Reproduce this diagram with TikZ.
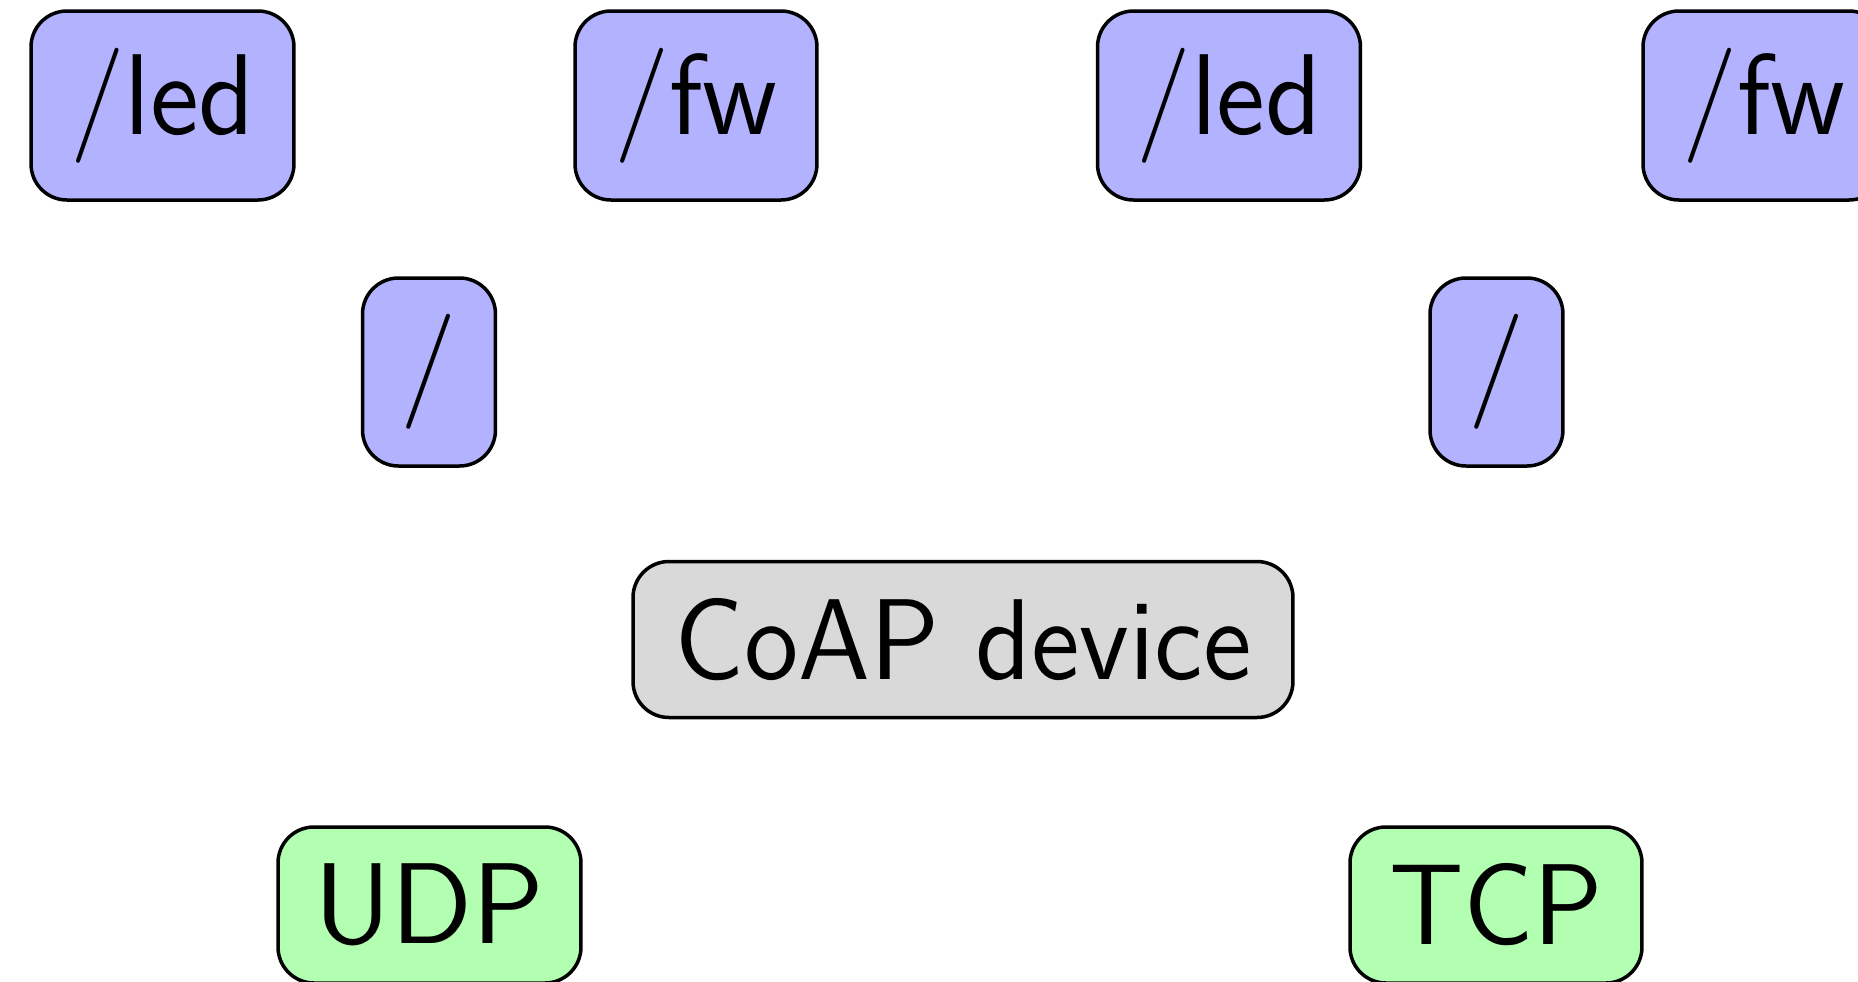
\documentclass[tikz,border=0pt]{standalone}
\usepackage{graphicx}
\newcommand{\xsq}[2]{\scalebox{#1}[1]{#2}}
\begin{document}
\begin{tikzpicture}[x=0.1pt,y=-0.1pt,
  box/.style={draw, rounded corners=3.6pt, line width=0.35pt, inner sep=0pt,
    font=\fontsize{11.5pt}{13pt}\selectfont\sffamily},
  res/.style={box, fill=blue!30, minimum height=18.9pt},
  proto/.style={box, fill=green!30, minimum height=15.6pt},
  dev/.style={box, fill=gray!30, minimum height=15.6pt}]
\useasboundingbox (0,0) rectangle (1858,982);
\node[res, minimum width=26.3pt] (led1) at (162.5,105.5) {\xsq{0.97}{/led}};
\node[res, minimum width=24.2pt] (fw1) at (696,105.5) {\xsq{0.98}{/fw}};
\node[res, minimum width=26.3pt] (led2) at (1229,105.5) {\xsq{0.97}{/led}};
\node[res, minimum width=24.2pt] (fw2) at (1764,105.5) {\xsq{0.98}{/fw}};
\node[res, minimum width=13.3pt, minimum height=18.8pt] (root1) at (429,372) {/};
\node[res, minimum width=13.3pt, minimum height=18.8pt] (root2) at (1496.5,372) {/};
\node[dev, minimum width=66pt] (coap) at (963,639.5) {\xsq{0.965}{CoAP device}};
\node[proto, minimum width=30.3pt] (udp) at (429.5,905) {UDP};
\node[proto, minimum width=29.2pt] (tcp) at (1496,905) {\xsq{0.97}{TCP}};
\end{tikzpicture}
\end{document}
